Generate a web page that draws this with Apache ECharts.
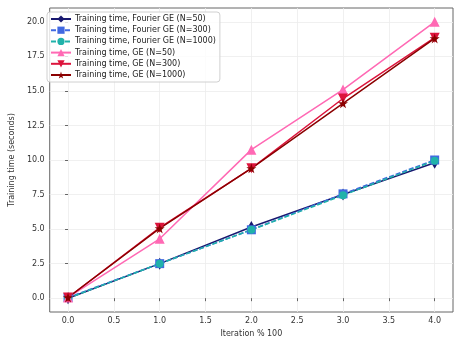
<!DOCTYPE html>
<html>
<head>
<meta charset="utf-8">
<script src="https://cdn.jsdelivr.net/npm/echarts@6/dist/echarts.min.js"></script>
<style>
  html, body { margin: 0; padding: 0; background: #fff; }
  #main { width: 462px; height: 346px; }
</style>
</head>
<body>
<!-- chart container -->
<div id="main"></div>
<script>
// data
const iterations = [0, 1, 2, 3, 4]
const fourier50 = [0, 2.5, 5.15, 7.5, 9.8]
const fourier300 = [0.05, 2.5, 4.95, 7.55, 10.0]
const fourier1000 = [0, 2.5, 4.95, 7.45, 9.95]
const ge50 = [0.05, 4.3, 10.75, 15.1, 20.0]
const ge300 = [0.05, 5.1, 9.4, 14.45, 18.85]
const ge1000 = [0.05, 5.05, 9.4, 14.1, 18.8]
const xTicks = [0, 0.5, 1, 1.5, 2, 2.5, 3, 3.5, 4]
const yTicks = [0, 2.5, 5, 7.5, 10, 12.5, 15, 17.5, 20]

const STAR = 'path://M50,0 L61,35 L98,35 L68,57 L79,91 L50,70 L21,91 L32,57 L2,35 L39,35 Z'
const FONT = 'DejaVu Sans'

function pairs(ys) {
  return iterations.map((x, i) => [x, ys[i]])
}

function line(name, ys, color, symbol, size, lineType, extra) {
  return Object.assign({
    name: name,
    type: 'line',
    data: pairs(ys),
    symbol: symbol,
    symbolSize: size,
    itemStyle: { color: color },
    lineStyle: { color: color, width: 1.5, type: lineType },
    emphasis: { disabled: true },
    animation: false
  }, extra || {})
}

const myChart = echarts.init(document.getElementById('main'))

const option = {
  backgroundColor: '#fff',
  textStyle: { fontFamily: FONT },
  grid: {
    left: 43, right: 9, top: 8, bottom: 34,
    show: true, borderColor: '#666', borderWidth: 1
  },
  legend: {
    orient: 'vertical',
    left: 47, top: 12,
    itemWidth: 20, itemHeight: 9, itemGap: 3.2,
    padding: [3, 4, 3, 3],
    borderColor: '#d0d0d0', borderWidth: 1, borderRadius: 3,
    backgroundColor: 'rgba(255,255,255,0.8)',
    textStyle: { fontFamily: FONT, fontSize: 8, color: '#222', padding: [0, 0, 0, -1] }
  },
  xAxis: {
    type: 'value',
    min: -0.2, max: 4.2,
    name: 'Iteration % 100',
    nameLocation: 'middle', nameGap: 18,
    nameTextStyle: { fontFamily: FONT, fontSize: 8, color: '#333' },
    axisLine: { show: false },
    axisTick: { show: true, customValues: xTicks, length: 3, lineStyle: { color: '#666' } },
    axisLabel: {
      customValues: xTicks, fontSize: 8, color: '#333', margin: 5,
      formatter: v => v.toFixed(1)
    },
    splitLine: { show: true, lineStyle: { color: '#ececec', width: 0.8 } }
  },
  yAxis: {
    type: 'value',
    min: -1, max: 21,
    name: 'Training time (seconds)',
    nameLocation: 'middle', nameGap: 28,
    nameTextStyle: { fontFamily: FONT, fontSize: 8, color: '#333' },
    axisLine: { show: false },
    axisTick: { show: true, customValues: yTicks, length: 3, lineStyle: { color: '#666' } },
    axisLabel: {
      customValues: yTicks, fontSize: 8, color: '#333', margin: 5,
      formatter: v => v.toFixed(1)
    },
    splitLine: { show: true, lineStyle: { color: '#ececec', width: 0.8 } }
  },
  series: [
    line('Training time, Fourier GE (N=50)', fourier50, '#191970', 'diamond', [7, 12], 'solid'),
    line('Training time, Fourier GE (N=300)', fourier300, '#4169E1', 'rect', 9, [5, 2]),
    line('Training time, Fourier GE (N=1000)', fourier1000, '#20B2AA', 'circle', 8, [5, 2]),
    line('Training time, GE (N=50)', ge50, '#FF69B4', 'triangle', 10, 'solid'),
    line('Training time, GE (N=300)', ge300, '#DC143C', 'triangle', 10, 'solid', { symbolRotate: 180 }),
    line('Training time, GE (N=1000)', ge1000, '#8B0000', STAR, 10, 'solid')
  ]
}

myChart.setOption(option)
</script>
</body>
</html>
